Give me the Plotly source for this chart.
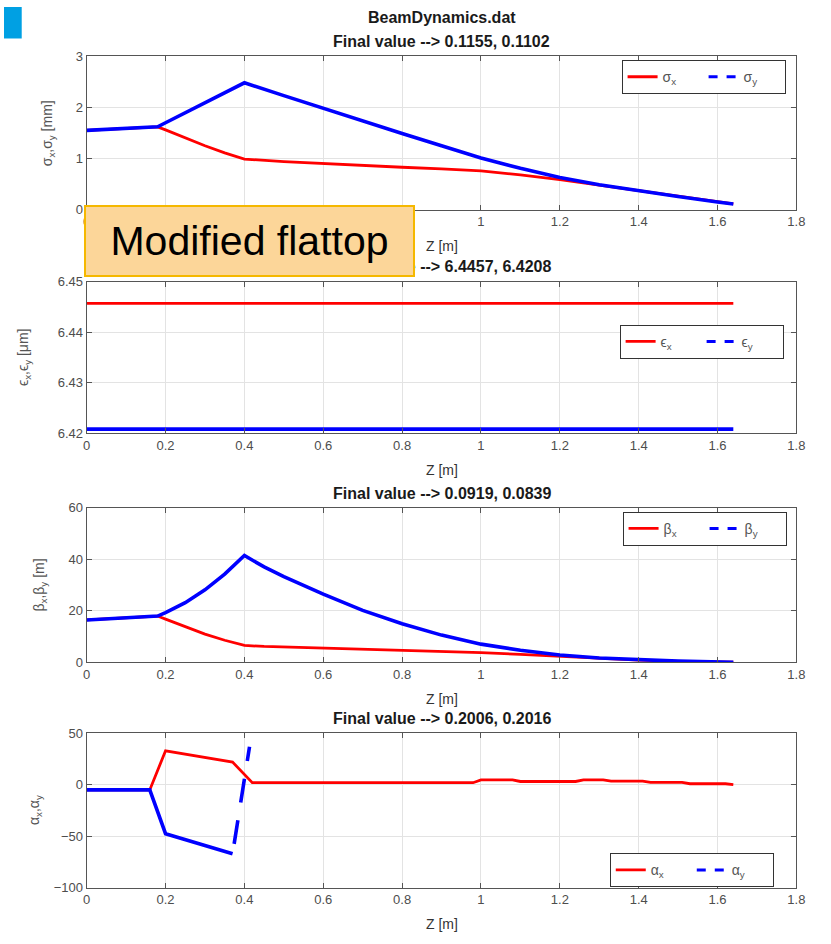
import plotly.graph_objects as go

# ---------------- data ----------------
z_sig = [0, 0.18, 0.2, 0.25, 0.3, 0.35, 0.4, 0.5, 0.6, 0.7, 0.8, 0.9, 1.0, 1.1, 1.2, 1.3, 1.4, 1.5, 1.6, 1.64]
sigma_x = [1.55, 1.62, 1.56, 1.40, 1.25, 1.11, 0.99, 0.94, 0.90, 0.87, 0.83, 0.80, 0.76, 0.68, 0.59, 0.48, 0.37, 0.27, 0.16, 0.1155]
sigma_y = [1.55, 1.62, 1.70, 1.89, 2.09, 2.28, 2.48, 2.23, 1.98, 1.74, 1.49, 1.25, 1.01, 0.81, 0.63, 0.49, 0.37, 0.26, 0.15, 0.1102]

z_eps = [0, 1.64]
eps_x = [6.4457, 6.4457]
eps_y = [6.4208, 6.4208]

z_beta = [0, 0.18, 0.2, 0.25, 0.3, 0.35, 0.4, 0.45, 0.5, 0.6, 0.7, 0.8, 0.9, 1.0, 1.1, 1.2, 1.3, 1.4, 1.5, 1.64]
beta_x = [16.5, 18.0, 16.8, 13.8, 11.0, 8.6, 6.6, 6.2, 6.0, 5.5, 5.1, 4.6, 4.2, 3.8, 3.1, 2.3, 1.5, 0.9, 0.4, 0.0919]
beta_y = [16.5, 18.0, 19.3, 23.2, 28.2, 34.3, 41.5, 37.1, 33.3, 26.5, 20.2, 15.0, 10.6, 7.1, 4.7, 2.9, 1.7, 1.0, 0.5, 0.0839]

z_alpha_x = [0, 0.16, 0.2, 0.37, 0.42, 0.98, 1.0, 1.08, 1.1, 1.24, 1.26, 1.31, 1.33, 1.41, 1.43, 1.51, 1.53, 1.62, 1.64]
alpha_x = [-5, -5, 33, 22, 2, 2, 4.8, 4.8, 3.2, 3.2, 4.8, 4.8, 3.5, 3.5, 2.3, 2.3, 1.0, 1.0, 0.2006]
z_alpha_y = [0, 0.16, 0.2, 0.37]
alpha_y = [-5, -5, -47.5, -67]
z_alpha_y_jump = [0.37, 0.413]
alpha_y_jump = [-67, 37]

titles = ["Final value --> 0.1155, 0.1102", "Final value --> 6.4457, 6.4208",
          "Final value --> 0.0919, 0.0839", "Final value --> 0.2006, 0.2016"]
ytitles = ["σ<sub>x</sub>,σ<sub>y</sub> [mm]", "ϵ<sub>x</sub>,ϵ<sub>y</sub> [μm]",
           "β<sub>x</sub>,β<sub>y</sub> [m]", "α<sub>x</sub>,α<sub>y</sub>"]
legend_names = [("σ<sub>x</sub>", "σ<sub>y</sub>"), ("ϵ<sub>x</sub>", "ϵ<sub>y</sub>"),
                ("β<sub>x</sub>", "β<sub>y</sub>"), ("α<sub>x</sub>", "α<sub>y</sub>")]
yranges = [[0, 3], [6.42, 6.45], [0, 60], [-100, 50]]
ydticks = [1, 0.01, 20, 50]

# ---------------- layout constants ----------------
W, H = 831, 944
X0, X1 = 84, 805
panels = [(50, 206), (279, 433), (509, 666), (738, 895)]
RED = "rgb(255,0,0)"
BLUE = "rgb(0,0,255)"
FONT = "Liberation Sans, Arial, sans-serif"
TICKC = "#4d4d4d"

def px_x(p):
    return p / W

def px_y(p):
    return 1 - p / H

fig = go.Figure()

series = [
    (z_sig, sigma_x, z_sig, sigma_y),
    (z_eps, eps_x, z_eps, eps_y),
    (z_beta, beta_x, z_beta, beta_y),
    (z_alpha_x, alpha_x, z_alpha_y, alpha_y),
]

for i, (zx, vx, zy, vy) in enumerate(series):
    n = "" if i == 0 else str(i + 1)
    xa, ya, lg = "x" + n, "y" + n, "legend" + n
    nx, ny = legend_names[i]
    fig.add_trace(go.Scatter(x=zx, y=vx, mode="lines", line=dict(color=RED, width=2.8),
                             name=nx, legend=lg, xaxis=xa, yaxis=ya, showlegend=True))
    fig.add_trace(go.Scatter(x=zy, y=vy, mode="lines", line=dict(color=BLUE, width=3.6),
                             name=ny, legend=lg, xaxis=xa, yaxis=ya, showlegend=False))
    if i == 3:
        fig.add_trace(go.Scatter(x=z_alpha_y_jump, y=alpha_y_jump, mode="lines",
                                 line=dict(color=BLUE, width=3.6, dash="0px,10px,24px,8px"),
                                 xaxis=xa, yaxis=ya, showlegend=False))
    # legend sample for the dashed y-series
    fig.add_trace(go.Scatter(x=[None], y=[None], mode="lines",
                             line=dict(color=BLUE, width=3, dash="dash"),
                             name=ny, legend=lg, xaxis=xa, yaxis=ya, showlegend=True))

axis_common = dict(showline=True, linecolor="#555555", linewidth=1, mirror="ticks",
                   ticks="inside", ticklen=5, tickcolor="#555555",
                   showgrid=True, gridcolor="#e3e3e3", gridwidth=1, zeroline=False,
                   tickfont=dict(family=FONT, size=13, color=TICKC))

legend_boxes = [(794, 54), (792, 323), (795, 513), (782, 860)]

layout = dict(width=W, height=H, margin=dict(l=0, r=0, t=0, b=0),
              paper_bgcolor="white", plot_bgcolor="white",
              font=dict(family=FONT), annotations=[], shapes=[])

for i, (top, bot) in enumerate(panels):
    n = "" if i == 0 else str(i + 1)
    layout["xaxis" + n] = dict(domain=[px_x(X0), px_x(X1)], range=[0, 1.8], dtick=0.2, tick0=0,
                               anchor="y" + n, **axis_common)
    layout["yaxis" + n] = dict(domain=[px_y(bot), px_y(top)], range=yranges[i], dtick=ydticks[i],
                               anchor="x" + n, **axis_common)
    lx, ly = legend_boxes[i]
    layout["legend" + n] = dict(x=px_x(lx), y=px_y(ly), xanchor="right", yanchor="top",
                                orientation="h", bgcolor="white", bordercolor="#333333", borderwidth=1,
                                font=dict(family=FONT, size=14, color="#555555"),
                                itemwidth=30, entrywidth=36, tracegroupgap=0)
    # panel title
    layout["annotations"].append(dict(text="<b>" + titles[i] + "</b>", x=px_x((X0 + X1) / 2),
                                      y=px_y(top - 15), xref="paper", yref="paper",
                                      xanchor="center", yanchor="middle", showarrow=False,
                                      font=dict(family=FONT, size=16, color="#1a1a1a")))
    # x title
    layout["annotations"].append(dict(text="Z [m]", x=px_x((X0 + X1) / 2), y=px_y(bot + 37),
                                      xref="paper", yref="paper", xanchor="center", yanchor="middle",
                                      showarrow=False, font=dict(family=FONT, size=14, color="#333333")))

ytitle_x = [45, 21, 37, 31]
for i, (top, bot) in enumerate(panels):
    layout["annotations"].append(dict(text=ytitles[i], x=px_x(ytitle_x[i]), y=px_y((top + bot) / 2),
                                      xref="paper", yref="paper", xanchor="center", yanchor="middle",
                                      textangle=-90, showarrow=False,
                                      font=dict(family=FONT, size=14, color="#555555")))

# figure file title
layout["annotations"].append(dict(text="<b>BeamDynamics.dat</b>", x=px_x((X0 + X1) / 2), y=px_y(11),
                                  xref="paper", yref="paper", xanchor="center", yanchor="middle",
                                  showarrow=False, font=dict(family=FONT, size=16, color="#1a1a1a")))

# "Modified flattop" label box
layout["annotations"].append(dict(text="Modified flattop", x=px_x((84 + 415) / 2), y=px_y(238),
                                  xref="paper", yref="paper", xanchor="center", yanchor="middle",
                                  showarrow=False, width=327, height=68, borderpad=0,
                                  bgcolor="rgb(252,214,153)", bordercolor="rgb(245,184,0)", borderwidth=2,
                                  font=dict(family=FONT, size=41, color="black")))

# slide corner marker
layout["shapes"].append(dict(type="rect", xref="paper", yref="paper", x0=0, x1=px_x(18),
                             y0=px_y(32), y1=1, fillcolor="rgb(0,160,227)", line=dict(width=0)))

fig.update_layout(**layout)
fig.write_html("out.html")
